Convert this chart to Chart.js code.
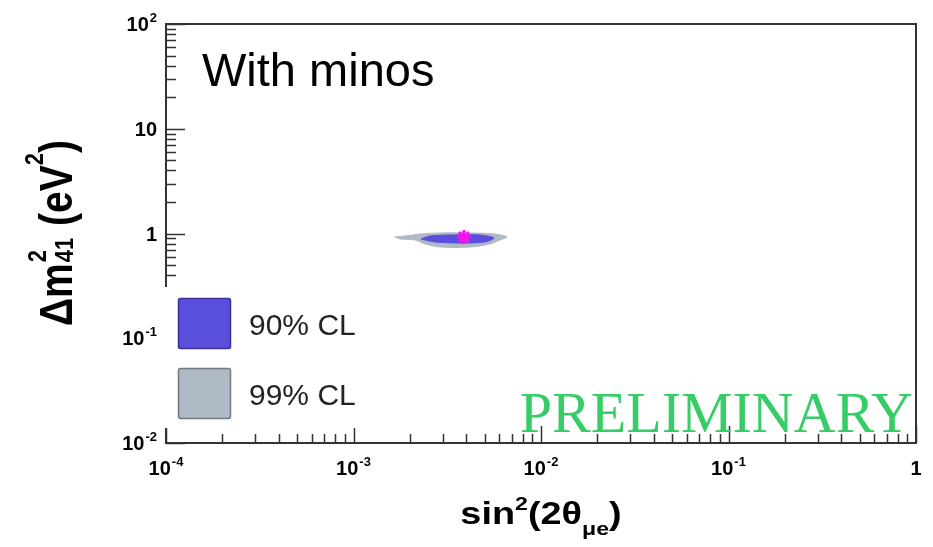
<!DOCTYPE html>
<html>
<head>
<meta charset="utf-8">
<script src="https://cdn.jsdelivr.net/npm/chart.js@4.4.1/dist/chart.umd.min.js"></script>
<style>
    html, body { margin: 0; padding: 0; background: #fff; }
    #wrap { width: 933px; height: 547px; }
</style>
</head>
<body>
<div id="wrap"><canvas id="chart" width="933" height="547"></canvas></div>
<script>
// 99% CL allowed region (sin^2(2theta_mue), dm^2_41)
const cl99X = [0.00166, 0.00188, 0.00226, 0.00289, 0.00418, 0.00569, 0.00659, 0.00604, 0.00535, 0.00418, 0.00289, 0.00241, 0.00213, 0.00177];
const cl99Y = [0.926, 0.946, 0.989, 1.011, 1.011, 0.989, 0.926, 0.867, 0.794, 0.743, 0.743, 0.794, 0.867, 0.886];

// 90% CL allowed region
const cl90X = [0.00229, 0.00256, 0.00327, 0.00473, 0.00561, 0.00503, 0.00370, 0.00272];
const cl90Y = [0.886, 0.946, 0.968, 0.968, 0.906, 0.830, 0.811, 0.830];

// best fit point
const bestFitX = [0.00388];
const bestFitY = [0.926];

// axis decades (exponents of 10)
const xTickExps = [-4, -3, -2, -1, 0];
const yTickExps = [-2, -1, 0, 1, 2];

const legendLabels = ["90% CL", "99% CL"];

const BLUE = "#5a4fdc";
const GREY = "#afbac4";
const FRAME = "#333333";
const FONT = "Arial, 'Liberation Sans', Helvetica, sans-serif";

function toPoints(xs, ys, close) {
    const pts = xs.map((x, i) => ({ x: x, y: ys[i] }));
    if (close) pts.push({ x: xs[0], y: ys[0] });
    return pts;
}

// "10^n" label like ROOT draws it
function drawPow(ctx, exp, x, y, align) {
    const base = exp === 0 ? "1" : "10";
    const sup = (exp === 0 || exp === 1) ? "" : String(exp);
    ctx.font = "bold 20px " + FONT;
    const wb = ctx.measureText(base).width;
    ctx.font = "bold 13px " + FONT;
    const ws = sup ? ctx.measureText(sup).width + 1 : 0;
    const w = wb + ws;
    const x0 = align === "right" ? x - w : x - w / 2;
    ctx.textAlign = "left";
    ctx.textBaseline = "alphabetic";
    ctx.font = "bold 20px " + FONT;
    ctx.fillText(base, x0, y);
    if (sup) {
        ctx.font = "bold 13px " + FONT;
        ctx.fillText(sup, x0 + wb + 1, y - 9);
    }
}

// draws a run of [text, size, dy] pieces, returns total width
function drawRun(ctx, parts, x, y, measureOnly) {
    let cx = x;
    parts.forEach(p => {
        ctx.font = "bold " + p[1] + "px " + FONT;
        if (!measureOnly) ctx.fillText(p[0], cx, y + p[2]);
        cx += ctx.measureText(p[0]).width + (p[3] || 0);
    });
    return cx - x;
}

const rootFrame = {
    id: "rootFrame",
    afterDraw(chart) {
        const ctx = chart.ctx;
        const a = chart.chartArea;
        const xs = chart.scales.x;
        const ys = chart.scales.y;
        ctx.save();

        // frame
        ctx.strokeStyle = FRAME;
        ctx.lineWidth = 2;
        ctx.strokeRect(a.left, a.top, a.right - a.left, a.bottom - a.top);

        // ticks inside the frame
        ctx.lineWidth = 1.5;
        ctx.beginPath();
        for (let e = -4; e <= 0; e++) {
            for (let m = 1; m <= 9; m++) {
                const v = m * Math.pow(10, e);
                if (v > 1) break;
                const px = Math.round(xs.getPixelForValue(v)) + 0.5;
                const len = m === 1 ? 17 : 9;
                ctx.moveTo(px, a.bottom);
                ctx.lineTo(px, a.bottom - len);
            }
        }
        for (let e = -2; e <= 2; e++) {
            for (let m = 1; m <= 9; m++) {
                const v = m * Math.pow(10, e);
                if (v > 100) break;
                const py = Math.round(ys.getPixelForValue(v)) + 0.5;
                const len = m === 1 ? 19 : 10;
                ctx.moveTo(a.left, py);
                ctx.lineTo(a.left + len, py);
            }
        }
        ctx.stroke();

        // tick labels
        ctx.fillStyle = "#000";
        xTickExps.forEach(e => drawPow(ctx, e, xs.getPixelForValue(Math.pow(10, e)), 475, "center"));
        yTickExps.forEach(e => drawPow(ctx, e, 157, ys.getPixelForValue(Math.pow(10, e)) + 7, "right"));

        // x title: sin^2(2theta_mue), a bit wider than plain Arial
        const xParts = [["sin", 31, 0], ["2", 19, -14], ["(2\u03b8", 31, 0], ["\u03bce", 19, 11], [")", 31, 0]];
        const xw = drawRun(ctx, xParts, 0, 0, true);
        ctx.save();
        ctx.textAlign = "left";
        ctx.translate((a.left + a.right) / 2, 524);
        ctx.scale(1.22, 1);
        drawRun(ctx, xParts, -xw / 2, 0, false);
        ctx.restore();

        // y title: dm^2_41 (eV^2)
        ctx.save();
        ctx.translate(72, 233);
        ctx.rotate(-Math.PI / 2);
        ctx.scale(1, 1.2);
        const yParts1 = [["\u0394m", 39, 0]];
        const w1 = drawRun(ctx, yParts1, 0, 0, true);
        ctx.font = "bold 22px " + FONT;
        const wSub = ctx.measureText("41").width;
        const yParts2 = [[" (eV", 39, 0], ["2", 22, -24], [")", 39, 0]];
        const w2 = drawRun(ctx, yParts2, 0, 0, true);
        const total = w1 + wSub + 2 + w2;
        let sx = -total / 2;
        drawRun(ctx, yParts1, sx, 0, false);
        sx += w1 + 1;
        ctx.font = "bold 22px " + FONT;
        ctx.fillText("2", sx, -22);
        ctx.fillText("41", sx, 1);
        sx += wSub + 1;
        drawRun(ctx, yParts2, sx, 0, false);
        ctx.restore();

        // label
        ctx.fillStyle = "#000";
        ctx.font = "47px " + FONT;
        ctx.textAlign = "left";
        ctx.fillText("With minos", 202, 86);

        // PRELIMINARY stamp
        ctx.fillStyle = "#36cc66";
        ctx.font = "58px 'Liberation Serif', 'Times New Roman', serif";
        ctx.textAlign = "right";
        ctx.fillText("PRELIMINARY", 913, 432);

        // legend box
        ctx.fillStyle = "#fff";
        ctx.fillRect(a.left - 3, 287, 240, 141);
        const swatch = [
            { fill: chart.data.datasets[1].backgroundColor, line: "#3a3296", y: 298 },
            { fill: chart.data.datasets[2].backgroundColor, line: "#6f7a84", y: 368 }
        ];
        swatch.forEach((s, i) => {
            ctx.fillStyle = s.fill;
            ctx.strokeStyle = s.line;
            ctx.lineWidth = 1.5;
            ctx.beginPath();
            ctx.roundRect(178.5, s.y + 0.5, 52, 50, 2);
            ctx.fill();
            ctx.stroke();
            ctx.fillStyle = "#222";
            ctx.font = "30px " + FONT;
            ctx.textAlign = "left";
            ctx.fillText(legendLabels[i], 249, s.y + 37);
        });

        ctx.restore();
    }
};

new Chart(document.getElementById("chart"), {
    type: "scatter",
    data: {
        datasets: [
            {
                label: "best fit",
                data: toPoints(bestFitX, bestFitY, false),
                pointStyle: "star",
                pointRadius: 7,
                borderWidth: 3,
                borderColor: "#ff10f0",
                backgroundColor: "#ff10f0",
                order: 0
            },
            {
                label: legendLabels[0],
                data: toPoints(cl90X, cl90Y, true),
                showLine: true,
                fill: "shape",
                tension: 0.3,
                pointRadius: 0,
                borderWidth: 1,
                borderColor: BLUE,
                backgroundColor: BLUE,
                order: 1
            },
            {
                label: legendLabels[1],
                data: toPoints(cl99X, cl99Y, true),
                showLine: true,
                fill: "shape",
                tension: 0.3,
                pointRadius: 0,
                borderWidth: 1,
                borderColor: GREY,
                backgroundColor: GREY,
                order: 2
            }
        ]
    },
    options: {
        responsive: false,
        animation: false,
        layout: { padding: { left: 166, right: 17, top: 24, bottom: 104 } },
        scales: {
            x: { type: "logarithmic", min: 1e-4, max: 1, display: false },
            y: { type: "logarithmic", min: 1e-2, max: 100, display: false }
        },
        plugins: {
            legend: { display: false },
            tooltip: { enabled: false }
        }
    },
    plugins: [rootFrame]
});
</script>
</body>
</html>
